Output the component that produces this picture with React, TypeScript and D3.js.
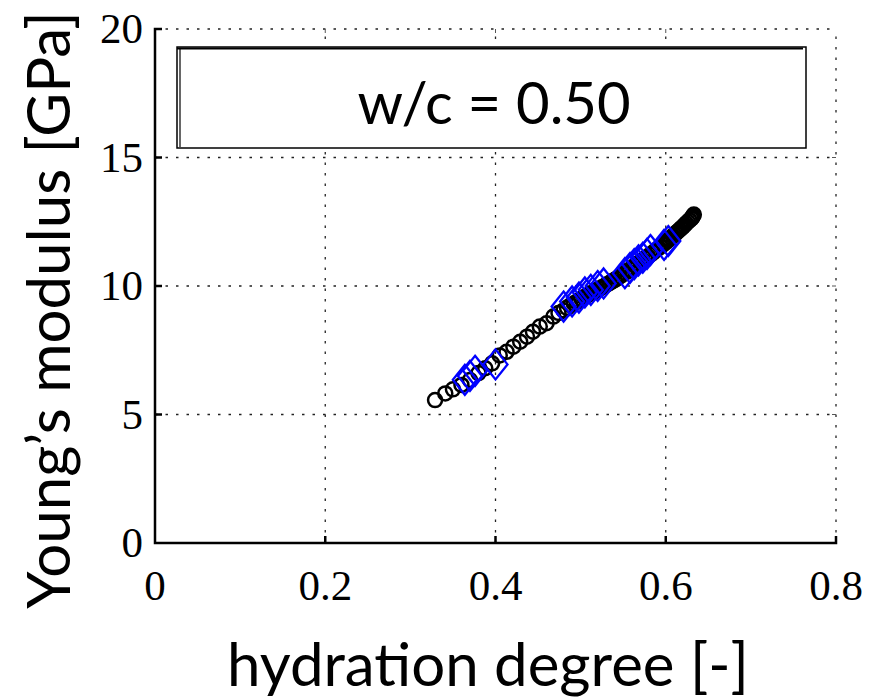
import React from "react";
import * as d3 from "d3";

const xTicks = [0, 0.2, 0.4, 0.6, 0.8];
const yTicks = [0, 5, 10, 15, 20];
const xTickLabels = ["0", "0.2", "0.4", "0.6", "0.8"];
const yTickLabels = ["0", "5", "10", "15", "20"];

const circleX = [0.329, 0.341, 0.35, 0.36, 0.37, 0.38, 0.388, 0.396, 0.405, 0.413, 0.421, 0.429, 0.437, 0.444, 0.452, 0.46, 0.468, 0.474,
  0.48, 0.484, 0.488, 0.492, 0.495, 0.498, 0.501, 0.504, 0.507, 0.51, 0.513, 0.516, 0.519, 0.522, 0.525, 0.528, 0.531, 0.534, 0.537,
  0.54, 0.543, 0.546, 0.549, 0.552, 0.555, 0.558, 0.561, 0.564, 0.567, 0.57, 0.573, 0.576, 0.579, 0.582, 0.585, 0.588, 0.591,
  0.594, 0.597, 0.6, 0.602, 0.604, 0.606, 0.608, 0.61, 0.612, 0.614, 0.616, 0.618, 0.62, 0.622, 0.624, 0.626, 0.628, 0.63, 0.631, 0.632, 0.633];
const circleY = [5.56, 5.82, 5.98, 6.15, 6.34, 6.61, 6.8, 6.99, 7.3, 7.44, 7.64, 7.83, 8.03, 8.22, 8.42, 8.55, 8.81, 8.95,
  9.05, 9.15, 9.25, 9.32, 9.38, 9.44, 9.5, 9.56, 9.62, 9.68, 9.73, 9.78, 9.84, 9.89, 9.95, 10.0, 10.06, 10.12, 10.18,
  10.24, 10.3, 10.37, 10.44, 10.51, 10.58, 10.65, 10.72, 10.8, 10.87, 10.94, 11.01, 11.08, 11.15, 11.22, 11.3, 11.38, 11.46,
  11.54, 11.62, 11.7, 11.76, 11.82, 11.88, 11.94, 12.0, 12.06, 12.12, 12.18, 12.24, 12.3, 12.37, 12.44, 12.5, 12.56, 12.62, 12.67, 12.72, 12.78];

const diamondX = [0.364, 0.37, 0.376, 0.4, 0.48, 0.49, 0.498, 0.505, 0.512, 0.52, 0.527, 0.552, 0.558, 0.563, 0.568, 0.573, 0.578, 0.582, 0.598, 0.603];
const diamondY = [6.35, 6.5, 6.7, 6.95, 9.2, 9.4, 9.55, 9.75, 9.85, 10.0, 10.1, 10.5, 10.7, 10.85, 11.0, 11.1, 11.25, 11.4, 11.6, 11.75];

const annotation = "w/c = 0.50";
const xTitle = "hydration degree [-]";
const yTitle = "Young’s modulus [GPa]";

export default function App() {
  const left = 155, right = 836, top = 29, bottom = 543;
  const x = d3.scaleLinear().domain([0, 0.8]).range([left, right]);
  const y = d3.scaleLinear().domain([0, 20]).range([bottom, top]);
  const serif = "'Liberation Serif', 'Times New Roman', serif";
  const sans = "Lato, 'Open Sans', sans-serif";
  const diamond = (cx: number, cy: number) => {
    const w = 12, h = 15;
    return `M${cx},${cy - h}L${cx + w},${cy}L${cx},${cy + h}L${cx - w},${cy}Z`;
  };
  return (
    <svg width={881} height={698} style={{ position: "absolute", left: 0, top: 0, background: "#fff" }}>
      {/* grid */}
      {xTicks.slice(1).map((t) => (
        <line key={"gx" + t} x1={x(t)} x2={x(t)} y1={bottom} y2={top} stroke="#222" strokeWidth={1.3} strokeDasharray="2.5,8" />
      ))}
      {yTicks.slice(1).map((t) => (
        <line key={"gy" + t} x1={left} x2={right} y1={y(t)} y2={y(t)} stroke="#222" strokeWidth={1.3} strokeDasharray="2.5,8" />
      ))}
      {/* small top/right ticks */}
      {xTicks.slice(1, 4).map((t) => (
        <line key={"tt" + t} x1={x(t)} x2={x(t)} y1={top} y2={top + 4} stroke="#555" strokeWidth={1} />
      ))}
      {yTicks.slice(1, 4).map((t) => (
        <line key={"rt" + t} x1={right - 4} x2={right} y1={y(t)} y2={y(t)} stroke="#555" strokeWidth={1} />
      ))}
      {/* annotation box */}
      <rect x={177} y={47} width={629} height={101} fill="#fff" stroke="#000" strokeWidth={1.5} />
      <line x1={180} x2={180} y1={48} y2={147} stroke="#000" strokeWidth={1.2} />
      <line x1={177} x2={803} y1={48.5} y2={48.5} stroke="#000" strokeWidth={2} />
      <text x={494} y={124} textAnchor="middle" fontFamily={sans} fontSize={58} fill="#000">{annotation}</text>
      {/* data */}
      {circleX.map((cx, i) => (
        <circle key={"c" + i} cx={x(cx)} cy={y(circleY[i])} r={7} fill="none" stroke="#000" strokeWidth={2.5} />
      ))}
      {diamondX.map((dx, i) => (
        <path key={"d" + i} d={diamond(x(dx), y(diamondY[i]))} fill="none" stroke="#0000ff" strokeWidth={2.3} />
      ))}
      {/* axes */}
      <path d={`M${left + 7},${top}H${left}V${bottom}H${right}V${bottom - 7}`} fill="none" stroke="#000" strokeWidth={2.5} />
      {yTicks.slice(1, 4).map((t) => (
        <line key={"yt" + t} x1={left} x2={left + 7} y1={y(t)} y2={y(t)} stroke="#000" strokeWidth={2.5} />
      ))}
      {xTicks.slice(1, 4).map((t) => (
        <line key={"xt" + t} x1={x(t)} x2={x(t)} y1={bottom} y2={bottom - 7} stroke="#000" strokeWidth={2.5} />
      ))}
      {/* tick labels */}
      {yTicks.map((t, i) => (
        <text key={"yl" + t} x={143} y={y(t) + 14} textAnchor="end" fontFamily={serif} fontSize={43} fill="#000">{yTickLabels[i]}</text>
      ))}
      {xTicks.map((t, i) => (
        <text key={"xl" + t} x={x(t)} y={600} textAnchor="middle" fontFamily={serif} fontSize={43} fill="#000">{xTickLabels[i]}</text>
      ))}
      {/* titles */}
      <text x={488} y={686} textAnchor="middle" fontFamily={sans} fontSize={60} fill="#000">{xTitle}</text>
      <text transform="translate(70,310) rotate(-90)" textAnchor="middle" fontFamily={sans} fontSize={60} fill="#000">{yTitle}</text>
    </svg>
  );
}
